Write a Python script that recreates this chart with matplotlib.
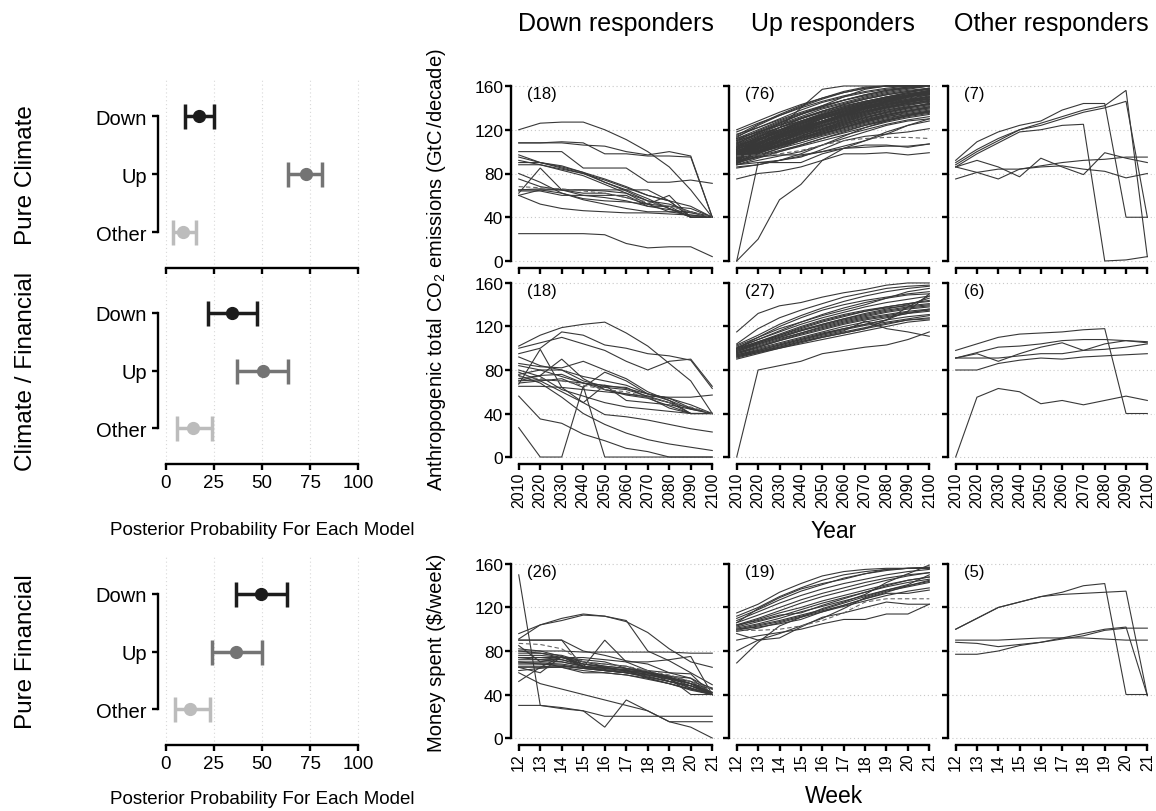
import matplotlib
matplotlib.use("Agg")
import matplotlib.pyplot as plt

plt.rcParams['font.family'] = ['Liberation Sans', 'DejaVu Sans']
plt.rcParams['mathtext.fontset'] = 'custom'
plt.rcParams['mathtext.rm'] = 'Liberation Sans'
plt.rcParams['mathtext.it'] = 'Liberation Sans:italic'

# ---------------- data ----------------
years = list(range(2010, 2101, 10))
weeks = list(range(12, 22))
model_names = ["Down", "Up", "Other"]
model_colors = ["#1c1c1c", "#747474", "#bcbcbc"]

pure_climate_mean = [17.3, 72.8, 9.2]
pure_climate_lo = [10.0, 63.4, 3.8]
pure_climate_hi = [25.1, 81.1, 15.6]

clim_fin_mean = [34.3, 50.6, 14.4]
clim_fin_lo = [22.2, 36.9, 5.7]
clim_fin_hi = [47.3, 63.4, 24.2]

pure_fin_mean = [49.7, 36.7, 12.6]
pure_fin_lo = [36.4, 24.2, 4.7]
pure_fin_hi = [62.9, 49.9, 23.0]

climate_down = [
    "120 126 127 127 120 111 100 86 65 40",
    "108 108 109 108 98 98 96 96 95 40",
    "108 108 108 106 105 100 97 100 96 40",
    "100 100 100 85 85 85 72 72 74 71",
    "97 90 85 80 74 67 60 55 40 40",
    "95 90 86 81 75 68 60 55 40 40",
    "90 90 87 81 72 65 57 48 40 40",
    "88 88 84 80 72 64 55 48 40 40",
    "80 72 62 57 55 54 52 50 48 40",
    "62 85 65 62 62 58 52 60 40 40",
    "65 66 65 65 65 65 65 55 50 40",
    "60 65 62 56 52 48 45 45 45 40",
    "60 52 48 46 45 44 44 43 42 40",
    "64 64 60 60 60 60 50 50 40 40",
    "25 25 25 25 24 16 12 13 13 4",
    "65 65 65 65 64 62 55 52 45 40",
    "92 88 83 78 70 62 52 45 42 40",
    "75 68 65 60 58 55 50 47 44 40",
]
climate_down_mean = "68 67 66 64 62 58 54 50 45 40"

climate_up = [
    "120 128 136 143 149 154 158 160 160 160",
    "118 126 133 140 146 151 155 158 160 160",
    "116 122 130 138 145 150 154 157 159 160",
    "114 122 129 136 142 147 151 155 158 160",
    "112 120 128 135 141 147 152 156 159 160",
    "112 118 124 130 136 141 146 150 153 155",
    "110 119 127 134 140 145 150 154 157 160",
    "110 116 122 128 134 139 144 148 151 153",
    "109 117 125 132 139 144 149 153 156 158",
    "108 115 122 128 134 140 145 149 152 155",
    "108 116 124 131 137 142 146 149 151 152",
    "107 114 120 126 132 137 142 146 150 154",
    "106 114 122 130 137 143 148 152 155 157",
    "106 112 118 124 130 135 140 144 147 150",
    "105 113 120 127 133 139 144 148 151 153",
    "105 111 117 123 128 133 137 141 144 146",
    "104 112 119 126 132 138 143 147 151 155",
    "104 110 116 122 128 134 139 143 146 148",
    "103 111 118 125 131 136 141 145 148 150",
    "103 108 114 120 126 131 136 140 143 145",
    "102 110 118 126 133 139 144 149 153 156",
    "102 109 115 121 127 132 137 141 145 148",
    "101 108 115 122 128 134 139 143 147 150",
    "101 107 113 119 124 129 134 138 141 143",
    "100 108 116 123 130 136 141 146 150 153",
    "100 106 112 118 124 130 135 140 144 147",
    "100 105 110 116 121 126 131 135 139 142",
    "99 107 114 121 128 134 140 145 149 152",
    "99 105 111 117 123 128 133 137 141 144",
    "98 106 114 121 127 133 138 143 147 151",
    "98 104 110 116 122 127 132 136 140 143",
    "98 103 108 113 118 123 128 132 135 138",
    "97 105 112 119 126 132 137 142 146 149",
    "97 103 109 115 120 125 130 134 137 140",
    "96 104 112 120 127 133 139 144 148 152",
    "96 102 108 114 120 126 131 136 140 144",
    "96 101 106 112 117 122 127 131 134 137",
    "95 103 110 117 124 130 136 141 145 148",
    "95 101 107 113 119 124 129 134 138 141",
    "95 100 105 110 116 121 126 130 134 137",
    "94 102 110 118 125 131 137 142 146 150",
    "94 100 106 112 118 124 129 133 137 140",
    "94 99 104 110 115 120 125 129 133 136",
    "93 101 109 116 123 129 135 140 145 149",
    "93 99 105 111 117 122 127 132 136 139",
    "92 100 107 114 121 127 133 138 142 146",
    "92 97 103 108 114 119 124 128 132 135",
    "91 98 105 112 119 125 131 136 140 144",
    "91 96 101 106 112 117 122 127 131 134",
    "90 98 106 114 121 128 134 139 143 147",
    "90 95 100 105 110 115 120 125 129 132",
    "89 96 103 110 116 122 128 133 137 141",
    "88 94 100 106 112 118 124 129 133 136",
    "88 92 96 100 106 112 118 124 128 130",
    "115 125 134 142 149 155 159 160 160 160",
    "113 124 133 141 148 154 158 160 160 160",
    "111 118 126 134 142 150 157 160 160 160",
    "107 117 126 134 141 147 152 156 158 160",
    "104 113 122 130 137 143 148 152 155 158",
    "102 111 120 128 135 141 146 150 154 157",
    "100 110 119 127 134 140 145 150 154 158",
    "99 108 117 125 132 138 143 147 151 155",
    "97 107 116 124 131 137 142 146 150 154",
    "96 106 115 123 130 136 141 146 150 153",
    "94 104 113 121 128 135 141 146 150 155",
    "92 103 113 122 130 137 143 148 152 156",
    "90 100 110 119 127 134 140 146 151 156",
    "89 99 109 118 126 133 139 145 150 155",
    "98 110 122 140 157 160 160 160 160 160",
    "86 88 92 98 106 114 122 128 133 137",
    "85 88 92 96 100 105 110 116 124 130",
    "88 90 92 95 102 110 114 116 118 121",
    "0 20 56 70 92 103 110 118 124 128",
    "0 90 90 90 98 103 104 105 105 107",
    "75 80 82 86 92 98 98 99 97 99",
    "90 95 97 97 100 103 106 106 104 107",
]
climate_up_mean = "96 97 98 101 106 110 112 113 113 112"

climate_other = [
    "92 109 118 124 128 138 144 144 40 40",
    "88 100 110 120 126 132 138 142 156 4",
    "90 102 112 120 124 130 136 140 146 40",
    "86 98 108 118 120 124 125 0 1 4",
    "86 92 86 77 94 86 79 99 94 90",
    "86 81 75 84 87 90 92 93 95 95",
    "75 81 84 84 86 87 84 82 76 80",
]

cf_down = [
    "102 112 119 122 124 114 102 86 70 40",
    "100 105 110 104 98 88 80 88 90 65",
    "95 100 115 112 103 100 95 93 89 63",
    "92 84 80 74 70 66 58 54 48 40",
    "67 99 64 50 66 52 50 48 44 40",
    "56 35 31 21 15 8 5 0 0 0",
    "27 0 0 65 0 0 0 0 0 0",
    "86 83 82 88 80 72 60 52 44 40",
    "80 74 62 56 50 46 44 42 40 40",
    "78 70 60 50 39 37 34 30 26 23",
    "75 68 55 40 30 22 16 12 9 6",
    "72 75 90 72 62 58 55 50 45 40",
    "70 75 76 68 64 62 56 50 40 40",
    "68 70 72 64 78 70 58 52 40 40",
    "65 65 64 62 60 58 56 55 55 57",
    "76 80 80 70 65 64 55 45 40 40",
    "84 80 74 68 62 57 54 47 40 40",
    "70 71 70 68 66 63 58 54 45 40",
]
cf_down_mean = "74 72 70 66 62 60 55 50 46 40"

cf_up = [
    "115 132 139 142 147 151 154 158 160 160",
    "0 80 84 88 95 98 101 103 108 115",
    "104 118 128 135 141 147 151 155 157 158",
    "103 112 122 130 137 143 148 152 155 157",
    "102 110 120 128 135 140 144 147 150 152",
    "101 108 116 124 131 137 142 146 149 150",
    "100 108 115 122 128 133 138 142 145 148",
    "100 106 113 120 126 131 135 138 141 143",
    "99 106 112 118 124 129 134 138 141 144",
    "99 105 111 117 122 127 131 135 138 140",
    "98 105 112 119 125 130 134 137 139 141",
    "98 104 110 116 121 126 130 134 137 139",
    "97 104 110 116 122 127 132 136 140 146",
    "97 103 109 114 119 124 128 131 134 136",
    "96 102 108 114 120 125 129 133 136 138",
    "96 101 107 112 117 122 126 129 132 134",
    "95 101 107 113 118 123 127 130 133 135",
    "95 100 105 110 115 120 124 128 132 136",
    "94 99 104 109 114 118 122 126 129 131",
    "94 98 103 108 113 118 122 126 134 150",
    "93 98 103 108 113 117 121 124 127 130",
    "93 97 102 107 112 116 125 118 115 111",
    "92 97 101 106 110 114 118 122 126 128",
    "92 96 100 105 110 114 118 126 138 148",
    "91 96 101 106 111 115 119 123 126 127",
    "90 95 100 104 108 112 116 120 124 126",
    "100 110 118 124 130 135 140 146 152 155",
]

cf_other = [
    "98 104 110 113 114 115 117 118 40 40",
    "91 96 101 102 104 107 108 108 107 106",
    "91 95 88 95 101 105 98 104 107 105",
    "91 91 91 93 95 95 98 99 101 104",
    "80 80 86 89 91 90 92 93 94 95",
    "0 55 63 60 49 52 48 52 56 52",
]

fin_down = [
    "150 30 28 25 20 20 20 20 20 20",
    "30 30 27 25 10 35 25 15 15 15",
    "96 104 108 113 112 107 97 82 70 65",
    "91 104 110 114 112 108 80 71 60 49",
    "90 90 90 80 76 71 68 60 59 40",
    "90 90 90 65 65 62 60 55 40 40",
    "80 80 80 79 79 79 79 79 78 78",
    "60 50 45 40 35 30 25 15 10 0",
    "65 60 75 65 90 70 62 55 48 40",
    "52 65 75 68 65 62 55 50 45 40",
    "65 65 65 60 60 58 55 50 45 40",
    "70 70 70 66 62 60 56 52 48 40",
    "72 72 72 68 65 62 58 55 50 45",
    "78 78 76 70 66 64 60 56 50 42",
    "68 68 66 64 62 60 58 54 46 40",
    "74 74 72 66 64 62 60 55 52 40",
    "76 76 74 68 66 64 62 60 55 40",
    "66 66 65 62 60 58 54 50 44 40",
    "70 68 67 64 62 60 56 52 48 42",
    "80 78 74 70 68 66 60 52 48 40",
    "62 64 66 64 62 60 57 52 46 40",
    "74 72 70 66 64 63 61 57 52 46",
    "69 69 68 65 63 61 59 56 50 40",
    "82 80 75 66 64 62 58 54 50 40",
    "85 70 74 72 70 64 60 57 55 45",
    "74 74 74 74 72 70 70 72 75 40",
]
fin_down_mean = "87 86 82 70 68 66 62 58 52 45"

fin_up = [
    "115 123 134 142 149 153 155 156 156 156",
    "106 119 129 137 142 146 151 155 156 157",
    "69 88 103 111 119 125 132 143 151 159",
    "80 90 96 103 110 119 129 135 139 143",
    "90 94 97 100 105 109 109 114 114 123",
    "96 90 92 102 111 115 120 125 123 123",
    "100 102 105 109 116 122 128 133 133 136",
    "112 120 130 138 145 150 153 155 156 156",
    "110 118 127 135 141 147 151 154 156 157",
    "108 116 124 131 137 142 146 150 153 155",
    "106 113 120 127 133 138 143 147 150 152",
    "104 110 117 124 130 135 140 145 149 152",
    "103 109 115 120 126 131 136 141 145 148",
    "102 107 112 118 124 129 134 139 143 146",
    "101 105 110 116 121 126 131 136 140 144",
    "100 104 108 113 118 124 130 136 141 150",
    "99 103 107 112 117 122 128 134 140 145",
    "98 101 106 111 116 121 126 131 135 138",
    "104 108 113 115 122 128 134 140 145 148",
]
fin_up_mean = "99 99 100 103 108 115 125 128 128 128"

fin_other = [
    "100 110 120 125 130 134 140 142 40 40",
    "100 110 120 125 130 132 133 134 135 39",
    "90 90 90 91 92 92 92 91 90 90",
    "88 87 84 86 88 91 94 99 101 101",
    "77 77 80 85 88 92 96 100 102 39",
]

y_ticks = [0, 40, 80, 120, 160]
col_titles = ["Down responders", "Up responders", "Other responders"]
row_titles = ["Pure Climate", "Climate / Financial", "Pure Financial"]


def parse(s):
    return [float(v) for v in s.split()]


# ---------------- layout ----------------
W, H = 1156, 812
fig = plt.figure(figsize=(W / 100, H / 100), dpi=100)


def add_ax(l, t, r, b):
    return fig.add_axes([l / W, 1 - b / H, (r - l) / W, (b - t) / H])


cols_lr = [(511, 720), (729, 937), (948, 1155)]
rows_tb = [(80, 269), (277, 465), (558, 746)]
left_lr = (158, 366)

LINE_C = "#383838"
GRID_C = "#c8c8c8"


def style_axes(ax, xb, yb):
    for s in ("top", "right"):
        ax.spines[s].set_visible(False)
    ax.spines["left"].set_bounds(*yb)
    ax.spines["bottom"].set_bounds(*xb)
    for s in ("left", "bottom"):
        ax.spines[s].set_linewidth(1.7)
    ax.tick_params(direction="out", length=4.0, width=1.7, color="black")
    ax.set_axisbelow(True)


panels = [
    [(climate_down, climate_down_mean), (climate_up, climate_up_mean), (climate_other, None)],
    [(cf_down, cf_down_mean), (cf_up, None), (cf_other, None)],
    [(fin_down, fin_down_mean), (fin_up, fin_up_mean), (fin_other, None)],
]

for ri, (t, b) in enumerate(rows_tb):
    xs = years if ri < 2 else weeks
    pad = (xs[-1] - xs[0]) * 0.04
    for ci, (l, r) in enumerate(cols_lr):
        ax = add_ax(l, t, r, b)
        lines, mean = panels[ri][ci]
        for s in lines:
            ax.plot(xs, parse(s), color=LINE_C, lw=0.8, solid_joinstyle="miter")
        if mean is not None:
            ax.plot(xs, parse(mean), color="#666666", lw=0.8, ls=(0, (4, 2.5)))
        ax.set_xlim(xs[0] - pad, xs[-1] + pad)
        ax.set_ylim(-6.4, 166.4)
        style_axes(ax, (xs[0], xs[-1]), (0, 160))
        ax.set_yticks(y_ticks)
        ax.set_xticks(xs)
        ax.yaxis.grid(True, linestyle=(0, (1, 2.5)), color=GRID_C, lw=0.8)
        if ci == 0:
            ax.set_yticklabels([str(v) for v in y_ticks], fontsize=12.5)
            ax.tick_params(axis="y", pad=1.5)
        else:
            ax.set_yticklabels([])
        if ri >= 1:
            ax.set_xticklabels([str(v) for v in xs], rotation=90, fontsize=11.5)
            ax.tick_params(axis="x", pad=1.5)
        else:
            ax.set_xticklabels([])
        ax.text(0.075, 0.925, "(%d)" % len(lines), transform=ax.transAxes,
                ha="left", va="center", fontsize=12)

# left posterior panels
left_data = [
    (pure_climate_mean, pure_climate_lo, pure_climate_hi),
    (clim_fin_mean, clim_fin_lo, clim_fin_hi),
    (pure_fin_mean, pure_fin_lo, pure_fin_hi),
]
ypos = [3, 2, 1]
for ri, (t, b) in enumerate(rows_tb):
    ax = add_ax(left_lr[0], t, left_lr[1], b)
    m, lo, hi = left_data[ri]
    for k in range(3):
        ax.errorbar([m[k]], [ypos[k]], xerr=[[m[k] - lo[k]], [hi[k] - m[k]]],
                    fmt="o", color=model_colors[k], ms=8.5, elinewidth=2.5,
                    capsize=9, capthick=2.5)
    ax.set_xlim(-4, 104)
    ax.set_ylim(0.38, 3.64)
    style_axes(ax, (0, 100), (1, 3))
    ax.set_yticks(ypos)
    ax.set_yticklabels(model_names, fontsize=14.5)
    ax.set_xticks([0, 25, 50, 75, 100])
    ax.xaxis.grid(True, linestyle=(0, (1, 2.5)), color="#d8d8d8", lw=0.8)
    ax.tick_params(axis="y", pad=4)
    if ri == 0:
        ax.set_xticklabels([])
    else:
        ax.set_xticklabels(["0", "25", "50", "75", "100"], fontsize=13.5)
        ax.tick_params(axis="x", pad=3)

# ---------------- text ----------------
for (l, r), ttl in zip(cols_lr, col_titles):
    fig.text((l + r) / 2 / W, 1 - 24 / H, ttl, ha="center", va="center", fontsize=18)

for yc, ttl in zip([175, 371, 652], row_titles):
    fig.text(26 / W, 1 - yc / H, ttl, rotation=90, ha="center", va="center", fontsize=17.5)

fig.text(262 / W, 1 - 531 / H, "Posterior Probability For Each Model",
         ha="center", va="center", fontsize=13.5)
fig.text(262 / W, 1 - 800 / H, "Posterior Probability For Each Model",
         ha="center", va="center", fontsize=13.5)

fig.text(437 / W, 1 - 270 / H, r"Anthropogenic total CO$_2$ emissions (GtC$\,$/decade)",
         rotation=90, ha="center", va="center", fontsize=14.5)
fig.text(437 / W, 1 - 653 / H, r"Money spent (\$/week)",
         rotation=90, ha="center", va="center", fontsize=14.5)
fig.text(834 / W, 1 - 532 / H, "Year", ha="center", va="center", fontsize=16.5)
fig.text(834 / W, 1 - 797 / H, "Week", ha="center", va="center", fontsize=16.5)

fig.savefig("out.png", dpi=100)
